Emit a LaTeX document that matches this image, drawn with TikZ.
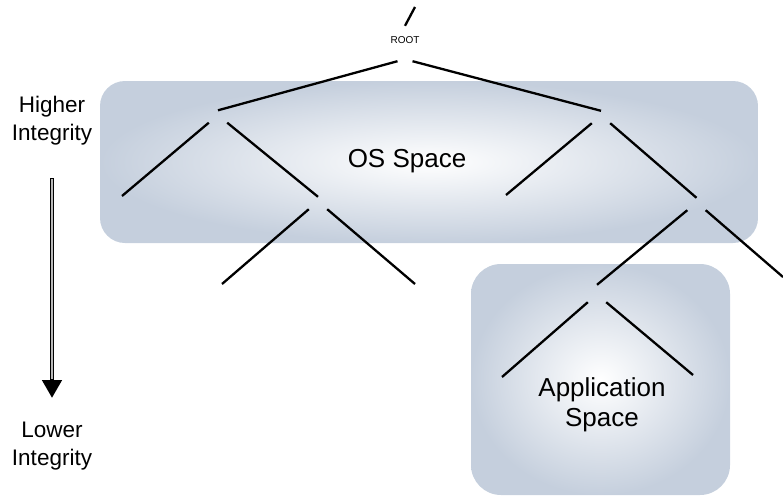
\documentclass[tikz,border=0pt]{standalone}
\usepackage{fontspec}
\setmainfont{Liberation Sans}
\usepackage{xcolor}
\usetikzlibrary{arrows.meta, positioning}
\definecolor{boxblue}{RGB}{197,207,221}
\tikzset{
	junc/.style = {rectangle, inner sep = 0pt, minimum width = 18pt, minimum height = 12pt},
	branch/.style = {line width = 2.3pt, black},
	spacebox/.style = {rounded corners = #1, inner color = white, outer color = boxblue},
	spacelabel/.style = {align = center, inner sep = 0pt, font = \fontsize{26}{30}\selectfont},
	sidelabel/.style = {align = center, inner sep = 0pt, font = \fontsize{22.5}{28}\selectfont}
}

\begin{document}
\begin{tikzpicture}[x = 1pt, y = -1pt]
				\useasboundingbox (0, 0) rectangle (783, 498);
				\path[spacebox = 25pt] (100, 81) rectangle (758, 243);
				\path[spacebox = 30pt] (471, 264) rectangle (730, 495);
				\node[spacelabel, anchor = base] (os) at (407, 167) {OS Space};
				\node[spacelabel] (app) at (602, 405) {Application\\Space};

				\node[sidelabel] (hi) at (52, 120.6) {Higher\\Integrity};
				\node[sidelabel] (lo) at (52, 446) {Lower\\Integrity};
				\coordinate (arrtop) at (52, 178);
				\coordinate (arrtip) at (52, 398);
				\draw[line width = 4.5pt, -{Triangle[length = 18pt, width = 19pt]}] (arrtop) -- (arrtip);
				\draw[gray!55, line width = 2pt, shorten < = 1pt, shorten > = 19pt] (arrtop) -- (arrtip);

				\node[junc, minimum width = 15pt, minimum height = 35pt, text depth = 6pt, font = \fontsize{10}{12}\selectfont] (root) at (405, 43.5) {ROOT};
				\node[junc] (a) at (218, 116.5) {};
				\node[junc] (b) at (318, 203) {};
				\node[junc] (c) at (601, 117) {};
				\node[junc] (d) at (696.5, 204) {};
				\node[junc, minimum height = 17pt] (e) at (597, 293.5) {};
				\coordinate (top) at (415, 7);
				\coordinate (al) at (122, 196);
				\coordinate (bl) at (222, 284);
				\coordinate (br) at (415, 284);
				\coordinate (cl) at (506, 195);
				\coordinate (dr) at (783, 277);
				\coordinate (el) at (502, 377);
				\coordinate (er) at (693, 375);

				\draw[branch] (top) -- (root.north);
				\draw[branch] (root.-113) -- (a.north);
				\draw[branch] (root.-67) -- (c.north);
				\draw[branch] (a.south west) -- (al);
				\draw[branch] (a.south east) -- (b.north);
				\draw[branch] (b.south west) -- (bl);
				\draw[branch] (b.south east) -- (br);
				\draw[branch] (c.south west) -- (cl);
				\draw[branch] (c.south east) -- (d.north);
				\draw[branch] (d.south west) -- (e.north);
				\draw[branch] (d.south east) -- (dr);
				\draw[branch] (e.south west) -- (el);
				\draw[branch] (e.south east) -- (er);
			\end{tikzpicture}
\end{document}
